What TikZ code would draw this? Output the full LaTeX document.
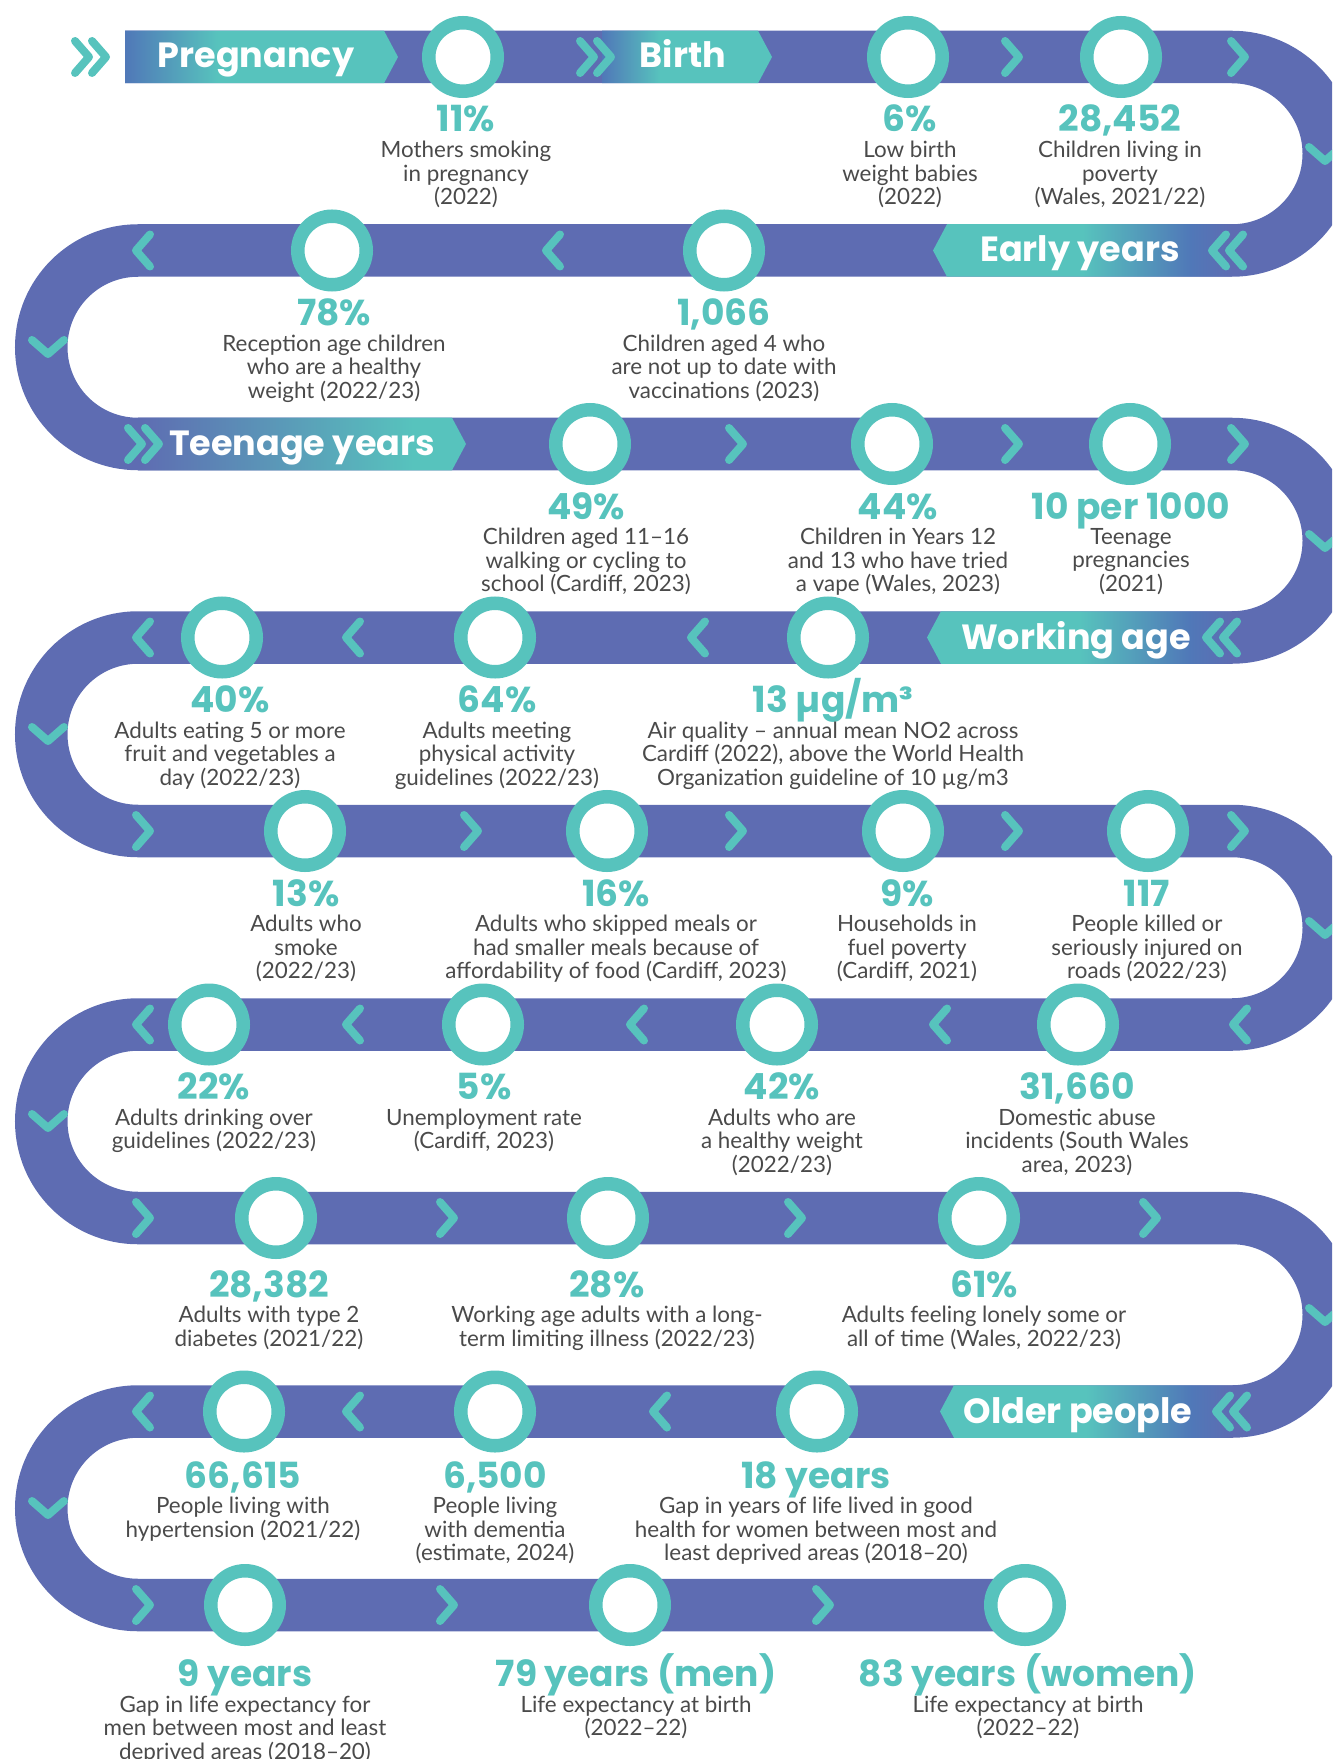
\documentclass[tikz,border=0pt]{standalone}
\usepackage{fontspec}
\setmainfont{Lato}
\newfontfamily\headfont{Poppins}
\usetikzlibrary{positioning}

\definecolor{trackblue}{HTML}{5E6CB2}
\definecolor{stopteal}{HTML}{57C3BD}
\definecolor{midblue}{HTML}{5078B8}
\definecolor{txtgrey}{HTML}{4A4A4A}

\pgfdeclarehorizontalshading{fadeR}{100bp}{color(0bp)=(midblue); color(25bp)=(midblue); color(42bp)=(stopteal); color(100bp)=(stopteal)}
\pgfdeclarehorizontalshading{fadeRlong}{100bp}{color(0bp)=(trackblue); color(25bp)=(trackblue); color(67bp)=(stopteal); color(100bp)=(stopteal)}
\pgfdeclarehorizontalshading{fadeL}{100bp}{color(0bp)=(stopteal); color(50bp)=(stopteal); color(68bp)=(midblue); color(75bp)=(trackblue); color(100bp)=(trackblue)}

\tikzset{
  track/.style={draw=trackblue, line width=26.25pt},
  chev/.style={draw=stopteal, line width=4pt, line cap=round, line join=round},
  stop/.style={circle, draw=stopteal, fill=white, line width=6.75pt, minimum size=34.25pt, inner sep=0pt},
  stage/.style={font=\headfont\bfseries\fontsize{17.5}{20}\selectfont, text=white, anchor=base, inner sep=0pt},
  val/.style={font=\headfont\bfseries\fontsize{18}{20}\selectfont, text=stopteal, anchor=base, inner sep=0pt, text depth=0pt},
  desc/.style={font=\fontsize{11.2}{11.75}\selectfont, text=txtgrey, align=center, inner sep=0pt, execute at begin node=\strut},
  fw/.pic={\draw[chev] (-7,-16) -- (7,0) -- (-7,16);},
  bw/.pic={\draw[chev] (7,-16) -- (-7,0) -- (7,16);},
  dn/.pic={\draw[chev] (-16,-7) -- (0,7) -- (16,-7);},
  fwtwo/.pic={\draw[chev] (-15,-16) -- (-1,0) -- (-15,16) (2,-16) -- (16,0) -- (2,16);},
  bwtwo/.pic={\draw[chev] (15,-16) -- (1,0) -- (15,16) (-2,-16) -- (-16,0) -- (-2,16);}
}

\begin{document}
\begin{tikzpicture}[x=0.5pt, y=-0.5pt, node distance=4.3pt]
  \clip (0,0) rectangle (1332,1759);

  \draw[track] (125,57) -- (1232,57)
    arc[start angle=-90, end angle=90, radius=96.75] -- (138,250.5)
    arc[start angle=-90, end angle=-270, radius=96.75] -- (1232,444)
    arc[start angle=-90, end angle=90, radius=96.75] -- (138,637.5)
    arc[start angle=-90, end angle=-270, radius=96.75] -- (1232,831)
    arc[start angle=-90, end angle=90, radius=96.75] -- (138,1024.5)
    arc[start angle=-90, end angle=-270, radius=96.75] -- (1232,1218)
    arc[start angle=-90, end angle=90, radius=96.75] -- (138,1411.5)
    arc[start angle=-90, end angle=-270, radius=96.75] -- (1010,1605);

  \shade[shading=fadeR] (125,30.75) -- (384,30.75) -- (398,57) -- (384,83.25) -- (125,83.25) -- cycle;
  \shade[shading=fadeR] (602,30.75) -- (758,30.75) -- (772,57) -- (758,83.25) -- (602,83.25) -- cycle;
  \shade[shading=fadeL] (1232,224.25) -- (947,224.25) -- (933,250.5) -- (947,276.75) -- (1232,276.75) -- cycle;
  \shade[shading=fadeRlong] (138,417.75) -- (452,417.75) -- (466,444) -- (452,470.25) -- (138,470.25) -- cycle;
  \shade[shading=fadeL] (1232,611.25) -- (941,611.25) -- (927,637.5) -- (941,663.75) -- (1232,663.75) -- cycle;
  \shade[shading=fadeL] (1232,1385.25) -- (954,1385.25) -- (940,1411.5) -- (954,1437.75) -- (1232,1437.75) -- cycle;

  \node[stage] (preg)  at (256,68)     {Pregnancy};
  \node[stage] (birth) at (683,68)     {Birth};
  \node[stage] (early) at (1080,262)   {Early years};
  \node[stage] (teen)  at (302,455.5)  {Teenage years};
  \node[stage] (work)  at (1076,649)   {Working age};
  \node[stage] (older) at (1078,1423)  {Older people};

  \pic at (90,57) {fwtwo}; \pic at (595,57) {fwtwo}; \pic at (1012,57) {fw}; \pic at (1238,57) {fw};
  \pic at (1325,154) {dn};
  \pic at (1228,250.5) {bwtwo}; \pic at (553,250.5) {bw}; \pic at (143,250.5) {bw};
  \pic at (48,347) {dn};
  \pic at (143,444) {fwtwo}; \pic at (736,444) {fw}; \pic at (1012,444) {fw}; \pic at (1238,444) {fw};
  \pic at (1325,541) {dn};
  \pic at (1222,637.5) {bwtwo}; \pic at (698,637.5) {bw}; \pic at (353,637.5) {bw}; \pic at (143,637.5) {bw};
  \pic at (48,734) {dn};
  \pic at (143,831) {fw}; \pic at (471,831) {fw}; \pic at (736,831) {fw}; \pic at (1012,831) {fw}; \pic at (1238,831) {fw};
  \pic at (1325,928) {dn};
  \pic at (1240,1024.5) {bw}; \pic at (940,1024.5) {bw}; \pic at (637,1024.5) {bw}; \pic at (353,1024.5) {bw}; \pic at (143,1024.5) {bw};
  \pic at (48,1121) {dn};
  \pic at (143,1218) {fw}; \pic at (447,1218) {fw}; \pic at (795,1218) {fw}; \pic at (1150,1218) {fw};
  \pic at (1325,1315) {dn};
  \pic at (1232,1411.5) {bwtwo}; \pic at (660,1411.5) {bw}; \pic at (353,1411.5) {bw}; \pic at (143,1411.5) {bw};
  \pic at (48,1508) {dn};
  \pic at (143,1605) {fw}; \pic at (447,1605) {fw}; \pic at (823,1605) {fw};

  \node[stop] (c1) at (463,57) {};
  \node[val] (v1) at (466,132) {11\%};
  \node[desc, below=of v1] (d1) {Mothers smoking\\in pregnancy\\(2022)};
  \node[stop] (c2) at (908,57) {};
  \node[val] (v2) at (910,132) {6\%};
  \node[desc, below=of v2] (d2) {Low birth\\weight babies\\(2022)};
  \node[stop] (c3) at (1121,57) {};
  \node[val] (v3) at (1120,132) {28,452};
  \node[desc, below=of v3] (d3) {Children living in\\poverty\\(Wales, 2021/22)};

  \node[stop] (c4) at (724,250.5) {};
  \node[val] (v4) at (724,325.5) {1,066};
  \node[desc, below=of v4] (d4) {Children aged 4 who\\are not up to date with\\vaccinations (2023)};
  \node[stop] (c5) at (332,250.5) {};
  \node[val] (v5) at (334,325.5) {78\%};
  \node[desc, below=of v5] (d5) {Reception age children\\who are a healthy\\weight (2022/23)};

  \node[stop] (c6) at (590,444) {};
  \node[val] (v6) at (586,519) {49\%};
  \node[desc, below=of v6] (d6) {Children aged 11–16\\walking or cycling to\\school (Cardiff, 2023)};
  \node[stop] (c7) at (892,444) {};
  \node[val] (v7) at (898,519) {44\%};
  \node[desc, below=of v7] (d7) {Children in Years 12\\and 13 who have tried\\a vape (Wales, 2023)};
  \node[stop] (c8) at (1130,444) {};
  \node[val] (v8) at (1131,519) {10 per 1000};
  \node[desc, below=of v8] (d8) {Teenage\\pregnancies\\(2021)};

  \node[stop] (c9) at (828,637.5) {};
  \node[val] (v9) at (833,712.5) {13 µg/m³};
  \node[desc, below=of v9] (d9) {Air quality – annual mean NO2 across\\Cardiff (2022), above the World Health\\Organization guideline of 10 µg/m3};
  \node[stop] (c10) at (495,637.5) {};
  \node[val] (v10) at (497,712.5) {64\%};
  \node[desc, below=of v10] (d10) {Adults meeting\\physical activity\\guidelines (2022/23)};
  \node[stop] (c11) at (222,637.5) {};
  \node[val] (v11) at (230,712.5) {40\%};
  \node[desc, below=of v11] (d11) {Adults eating 5 or more\\fruit and vegetables a\\day (2022/23)};

  \node[stop] (c12) at (305,831) {};
  \node[val] (v12) at (306,906) {13\%};
  \node[desc, below=of v12] (d12) {Adults who\\smoke\\(2022/23)};
  \node[stop] (c13) at (607,831) {};
  \node[val] (v13) at (616,906) {16\%};
  \node[desc, below=of v13] (d13) {Adults who skipped meals or\\had smaller meals because of\\affordability of food (Cardiff, 2023)};
  \node[stop] (c14) at (903,831) {};
  \node[val] (v14) at (907,906) {9\%};
  \node[desc, below=of v14] (d14) {Households in\\fuel poverty\\(Cardiff, 2021)};
  \node[stop] (c15) at (1148,831) {};
  \node[val] (v15) at (1147,906) {117};
  \node[desc, below=of v15] (d15) {People killed or\\seriously injured on\\roads (2022/23)};

  \node[stop] (c16) at (1078,1024.5) {};
  \node[val] (v16) at (1077,1099.5) {31,660};
  \node[desc, below=of v16] (d16) {Domestic abuse\\incidents (South Wales\\area, 2023)};
  \node[stop] (c17) at (777,1024.5) {};
  \node[val] (v17) at (782,1099.5) {42\%};
  \node[desc, below=of v17] (d17) {Adults who are\\a healthy weight\\(2022/23)};
  \node[stop] (c18) at (483,1024.5) {};
  \node[val] (v18) at (484,1099.5) {5\%};
  \node[desc, below=of v18] (d18) {Unemployment rate\\(Cardiff, 2023)};
  \node[stop] (c19) at (209,1024.5) {};
  \node[val] (v19) at (214,1099.5) {22\%};
  \node[desc, below=of v19] (d19) {Adults drinking over\\guidelines (2022/23)};

  \node[stop] (c20) at (276,1218) {};
  \node[val] (v20) at (269,1297) {28,382};
  \node[desc, below=of v20] (d20) {Adults with type 2\\diabetes (2021/22)};
  \node[stop] (c21) at (608,1218) {};
  \node[val] (v21) at (607,1297) {28\%};
  \node[desc, below=of v21] (d21) {Working age adults with a long-\\term limiting illness (2022/23)};
  \node[stop] (c22) at (979,1218) {};
  \node[val] (v22) at (984,1297) {61\%};
  \node[desc, below=of v22] (d22) {Adults feeling lonely some or\\all of time (Wales, 2022/23)};

  \node[stop] (c23) at (817,1411.5) {};
  \node[val] (v23) at (816,1488) {18 years};
  \node[desc, below=of v23] (d23) {Gap in years of life lived in good\\health for women between most and\\least deprived areas (2018–20)};
  \node[stop] (c24) at (495,1411.5) {};
  \node[val] (v24) at (495,1488) {6,500};
  \node[desc, below=of v24] (d24) {People living\\with dementia\\(estimate, 2024)};
  \node[stop] (c25) at (244,1411.5) {};
  \node[val] (v25) at (243,1488) {66,615};
  \node[desc, below=of v25] (d25) {People living with\\hypertension (2021/22)};

  \node[stop] (c26) at (245,1605) {};
  \node[val] (v26) at (245,1686.5) {9 years};
  \node[desc, below=of v26] (d26) {Gap in life expectancy for\\men between most and least\\deprived areas (2018–20)};
  \node[stop] (c27) at (630,1605) {};
  \node[val] (v27) at (636,1686.5) {79 years (men)};
  \node[desc, below=of v27] (d27) {Life expectancy at birth\\(2022–22)};
  \node[stop] (c28) at (1025,1605) {};
  \node[val] (v28) at (1028,1686.5) {83 years (women)};
  \node[desc, below=of v28] (d28) {Life expectancy at birth\\(2022–22)};
\end{tikzpicture}
\end{document}
